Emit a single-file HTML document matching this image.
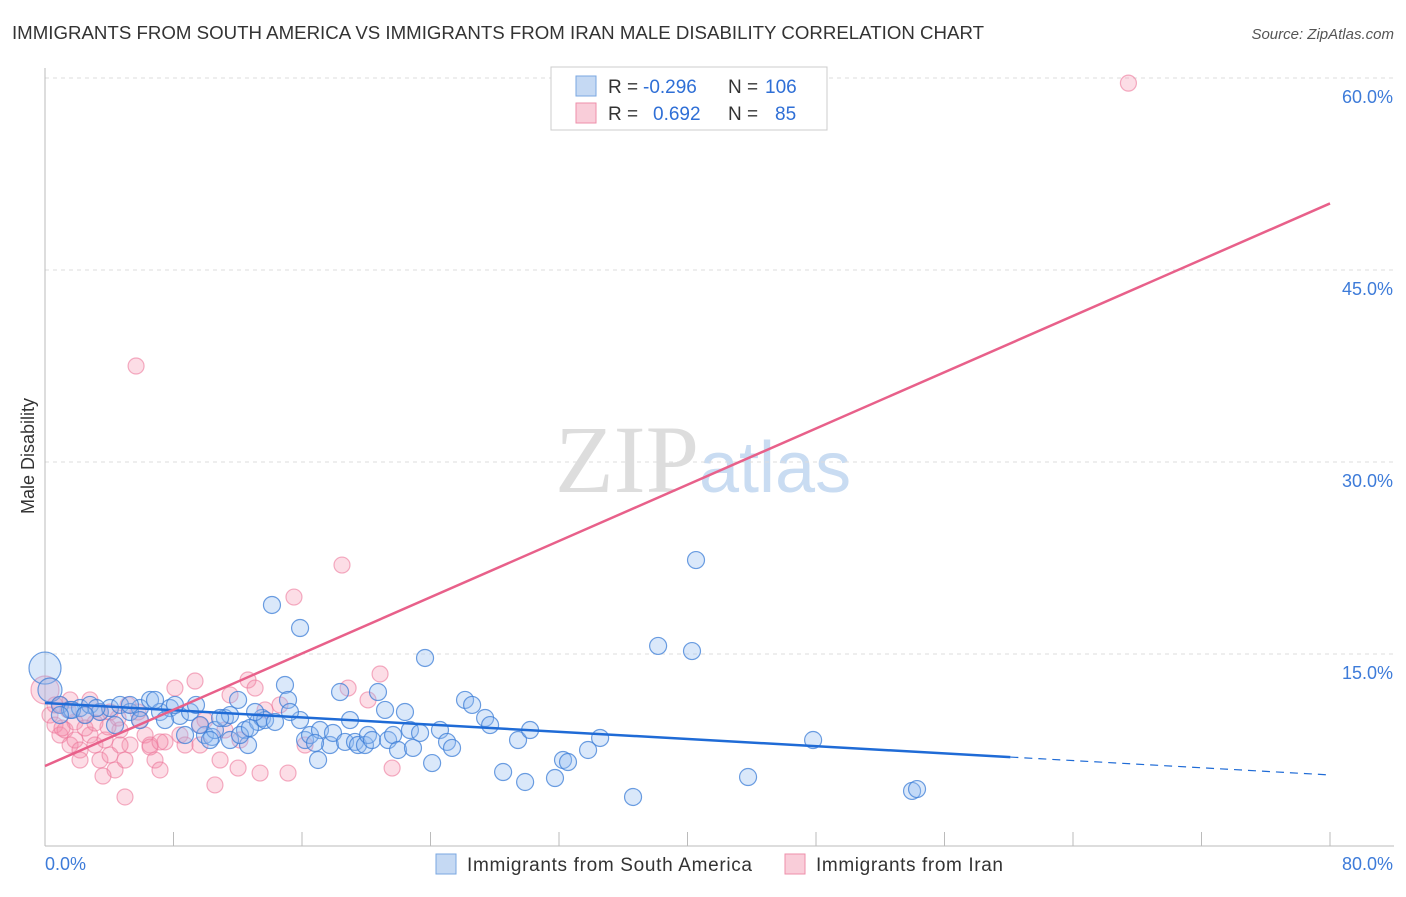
<!DOCTYPE html>
<html><head><meta charset="utf-8"><style>
body{margin:0;background:#fff;font-family:"Liberation Sans",sans-serif}
</style></head><body>
<svg id="c" width="1406" height="892" xmlns="http://www.w3.org/2000/svg">
<text x="12" y="39" font-size="18" fill="#333" textLength="972" lengthAdjust="spacingAndGlyphs">IMMIGRANTS FROM SOUTH AMERICA VS IMMIGRANTS FROM IRAN MALE DISABILITY CORRELATION CHART</text>
<text x="1394" y="39" font-size="15" fill="#555" font-style="italic" text-anchor="end">Source: ZipAtlas.com</text>
<text x="34" y="456" font-size="18" fill="#333" text-anchor="middle" transform="rotate(-90 34 456)">Male Disability</text>
<text x="555" y="492" font-size="96" fill="#ddd" font-family="Liberation Serif,serif">ZIP<tspan fill="#c9dcf2" font-family="Liberation Sans,sans-serif" font-size="72">atlas</tspan></text>
<g id="grid"></g><g id="pts"></g><g id="lines"></g>
<g>
<rect x="551" y="67" width="276" height="63" fill="#fff" stroke="#ccc"/>
<rect x="576" y="76" width="20" height="20" fill="#c5d9f3" stroke="#7aa7e0"/>
<rect x="576" y="103" width="20" height="20" fill="#f9cdd9" stroke="#ee8faa"/>
<g font-size="19" fill="#333">
<text x="608" y="93">R =</text><text x="643" y="93" fill="#2f6fd6">-0.296</text><text x="728" y="93">N =</text><text x="765" y="93" fill="#2f6fd6">106</text>
<text x="608" y="120">R =</text><text x="653" y="120" fill="#2f6fd6">0.692</text><text x="728" y="120">N =</text><text x="775" y="120" fill="#2f6fd6">85</text>
</g>
</g>
<g>
<rect x="436" y="854" width="20" height="20" fill="#c5d9f3" stroke="#7aa7e0"/>
<text x="467" y="871" font-size="19" fill="#333" textLength="285">Immigrants from South America</text>
<rect x="785" y="854" width="20" height="20" fill="#f9cdd9" stroke="#ee8faa"/>
<text x="816" y="871" font-size="19" fill="#333" textLength="187">Immigrants from Iran</text>
</g>
</svg>
<script>
const yTicks=[15,30,45,60];
const yTickLabels=["15.0%","30.0%","45.0%","60.0%"];
const xTickLabels=["0.0%","80.0%"];
const blueX=[0,0.31,0.93,1.56,2.18,2.8,3.42,4.05,4.67,5.29,5.91,6.54,7.16,7.78,8.4,9.03,9.4,9.96,10.4,10.58,11.2,11.52,12.02,12.45,12.64,13.26,13.51,13.7,14.13,14.32,14.94,15.13,15.88,15.88,16.19,16.5,17,17.12,17.74,17.93,18.37,18.68,18.99,19.3,19.49,19.92,20.11,20.36,20.73,21.17,21.36,21.67,21.98,22.41,22.72,22.91,23.35,23.66,24.1,24.59,25.03,25.34,26.15,26.59,27.4,27.71,28.52,29.45,29.89,30.2,31.75,32.25,32.56,33.81,34.56,36.61,38.17,40.28,40.53,43.77,47.82,53.98,54.29,3.2,6.85,7.47,8.09,8.72,9.65,10.27,10.9,11.52,12.14,12.76,13.08,5.29,5.91,4.36,1.68,2.49,0.93,15.25,16.81];
const blueY=[13.9,12.19,11.02,10.63,10.78,11.02,10.47,10.78,11.02,10.47,10.78,11.41,10.47,10.78,10.16,10.47,11.02,8.67,8.52,9.06,10,10.23,11.41,9.06,7.89,9.69,10,9.84,18.83,9.69,12.58,11.41,17.03,9.84,8.28,8.67,6.72,9.06,7.89,8.83,12.03,8.13,9.84,8.13,7.89,7.89,8.67,8.28,12.03,10.63,8.28,8.67,7.5,10.47,9.06,7.66,8.83,14.69,6.48,9.06,8.13,7.66,11.41,11.02,10,9.45,5.78,8.28,5,9.06,5.31,6.72,6.56,7.5,8.44,3.83,15.63,15.23,22.34,5.39,8.28,4.3,4.45,10.78,11.41,9.84,11.02,8.67,9.45,8.28,10,8.28,8.67,9.22,10.47,11.02,9.84,9.45,10.63,10.23,10.23,10.47,8.05];
const blueR=[16,12];
const pinkX=[0,0.31,0.62,0.93,1.25,1.56,1.87,2.18,2.49,2.8,3.11,3.42,3.74,4.05,4.36,4.67,4.98,5.29,5.67,5.91,6.23,6.85,7.16,7.47,8.09,8.4,9.34,9.65,9.96,10.58,10.9,11.2,11.52,12.02,12.64,13.08,13.39,13.7,14.63,15.13,15.5,16.19,18.49,18.87,20.11,20.86,21.61,0.93,1.56,1.87,2.49,3.42,3.92,4.55,5.17,5.79,6.54,1.06,1.43,2.8,4.98,3.61,6.54,7.16,8.72,4.67,3.11,0.62,2.18,9.65,67.45,12.14,4.05];
const pinkY=[12.19,10.23,9.45,8.67,9.06,7.89,8.28,7.5,10.23,8.67,7.89,6.72,8.28,7.11,5.94,9.06,6.72,7.89,37.5,9.84,8.67,6.72,5.94,8.13,12.34,8.67,12.89,9.45,9.84,4.77,6.72,9.06,11.8,6.09,12.97,12.34,5.7,10.63,11.02,5.7,19.45,7.89,21.95,12.34,11.41,13.44,6.09,11.02,11.41,9.69,9.22,10.47,9.3,10,11.02,10.47,7.89,9.22,10.63,11.41,3.83,5.47,7.73,8.13,7.89,7.89,9.61,11.02,6.72,7.89,59.6,8.28,10.47];
const blueTrend=[11.17,5.55], pinkTrend=[6.25,50.2], solidEnd=60.1;
const X=v=>45+v/80*1285, Y=v=>846-v/15*192;
const NS="http://www.w3.org/2000/svg";
function mk(t,a,p){const e=document.createElementNS(NS,t);for(const k in a)e.setAttribute(k,a[k]);p.appendChild(e);return e;}
const g=document.getElementById('grid');
yTicks.forEach((t,i)=>{
 const l=mk('line',{x1:45,x2:1394,y1:Y(t),y2:Y(t),stroke:'#ddd','stroke-dasharray':'4,4'},g);
 
 
 const tx=mk('text',{x:1393,y:Y(t)+25,'font-size':18,fill:'#3d7bd9','text-anchor':'end'},g);tx.textContent=yTickLabels[i];
 
 
});
mk('line',{x1:45,x2:45,y1:68,y2:846,stroke:'#bbb'},g);
mk('line',{x1:45,x2:1394,y1:846,y2:846,stroke:'#bbb'},g);
for(let i=0;i<=10;i++){mk('line',{x1:X(i*8),x2:X(i*8),y1:846,y2:832,stroke:'#bbb'},g);}
[0,80].forEach((v,i)=>{const tx=mk('text',{x:i?1393:45,y:870,'font-size':18,fill:'#3d7bd9','text-anchor':i?'end':'start'},g);tx.textContent=xTickLabels[i];
 
 });
const P=document.getElementById('pts');
pinkX.forEach((x,i)=>{const c=mk('circle',{cx:X(x),cy:Y(pinkY[i]),r:i==0?14:8,fill:'rgba(244,143,172,0.3)',stroke:'rgba(236,120,155,0.6)','stroke-width':1.2},P);
 
 });
blueX.forEach((x,i)=>{const c=mk('circle',{cx:X(x),cy:Y(blueY[i]),r:blueR[i]||8.5,fill:'rgba(150,190,240,0.35)',stroke:'rgba(60,125,215,0.75)','stroke-width':1.2},P);
 
 });
const L=document.getElementById('lines');
const by=v=>blueTrend[0]+(blueTrend[1]-blueTrend[0])*v/80;
let a=mk('line',{x1:X(0),y1:Y(by(0)),x2:X(solidEnd),y2:Y(by(solidEnd)),stroke:'#1f6bd6','stroke-width':2.5},L);


a=mk('line',{x1:X(solidEnd),y1:Y(by(solidEnd)),x2:X(80),y2:Y(by(80)),stroke:'#1f6bd6','stroke-width':1.2,'stroke-dasharray':'8,6'},L);


a=mk('line',{x1:X(0),y1:Y(pinkTrend[0]),x2:X(80),y2:Y(pinkTrend[1]),stroke:'#e8608a','stroke-width':2.5},L);


</script>
</body></html>
